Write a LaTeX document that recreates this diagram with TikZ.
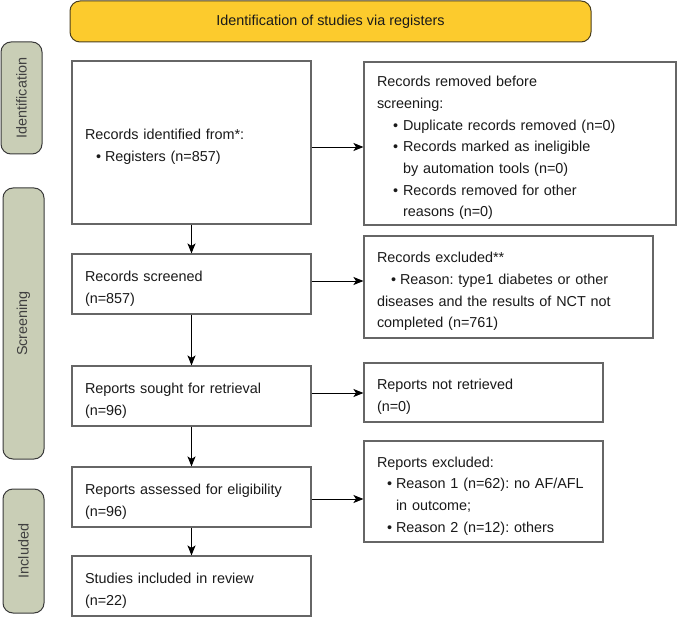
\documentclass[tikz,border=0pt]{standalone}
\usepackage{fontspec}
\setmainfont{Liberation Sans}
\usetikzlibrary{arrows.meta}
\definecolor{bannerfill}{HTML}{FCCB2D}
\definecolor{bannerline}{HTML}{4A3F1E}
\definecolor{sidefill}{HTML}{C9CEB6}
\definecolor{sideline}{HTML}{3A3A3A}
\definecolor{txt}{HTML}{1A1A1A}
\definecolor{boxline}{HTML}{666666}
\newcommand{\topfix}{\rule{0pt}{19.5pt}}
\begin{document}
\frenchspacing
\begin{tikzpicture}[x=1pt,y=-1pt,
  every node/.style={font=\fontsize{14.4}{21.7}\selectfont, text=txt},
  banner/.style={draw=bannerline, line width=1pt, fill=bannerfill, rounded corners=10pt,
    minimum width=521pt, minimum height=41pt, inner sep=0pt},
  side/.style={draw=sideline, line width=1pt, fill=sidefill, rounded corners=10pt,
    rotate=90, inner sep=0pt, text=black!75},
  flowbox/.style={draw=boxline, line width=1.1pt, fill=white, align=left,
    inner xsep=13pt, inner ysep=0pt, text width=#1},
  arr/.style={draw=black, line width=0.9pt, -{Stealth[length=10pt,width=8pt,inset=2.5pt]}}
]
\useasboundingbox (0,0) rectangle (679,617);

% banner
\node[banner] (ban) at (330.5,21.5) {Identification of studies via registers};

% side labels
\node[side, minimum width=112pt, minimum height=41pt] (idl) at (21.5,98) {Identification};
\node[side, minimum width=271pt, minimum height=41pt] (scr) at (23.5,323.5) {Screening};
\node[side, minimum width=124pt, minimum height=41pt] (inc) at (23.5,551) {Included};

% left column
\node[flowbox=213pt, minimum height=163pt] (b1) at (191.5,142.5)
  {\topfix Records identified from*:\\\hspace*{11pt}\textbullet\hspace{4pt}Registers (n=857)};
\node[flowbox=213pt, minimum height=60pt] (b2) at (191.5,284)
  {\topfix Records screened\\(n=857)};
\node[flowbox=213pt, minimum height=60pt] (b3) at (191.5,396)
  {\topfix Reports sought for retrieval\\(n=96)};
\node[flowbox=213pt, minimum height=60pt] (b4) at (191.5,497)
  {\topfix Reports assessed for eligibility\\(n=96)};
\node[flowbox=213pt, minimum height=60pt] (b5) at (191.5,586)
  {\topfix Studies included in review\\(n=22)};

% right column
\node[flowbox=286pt, minimum height=163pt] (r1) at (520,143.5)
  {\topfix Records removed before\\
   screening:\\
   \hspace*{16pt}\textbullet\hspace{5pt}Duplicate records removed (n=0)\\
   \hspace*{16pt}\textbullet\hspace{5pt}Records marked as ineligible\\
   \hspace*{26pt}by automation tools (n=0)\\
   \hspace*{16pt}\textbullet\hspace{5pt}Records removed for other\\
   \hspace*{26pt}reasons (n=0)};
\node[flowbox=263pt, minimum height=102pt] (r2) at (508.5,287)
  {\topfix Records excluded**\\
   \hspace*{14pt}\textbullet\hspace{4pt}Reason: type1 diabetes or other\\
   diseases and the results of NCT not\\
   completed (n=761)};
\node[flowbox=213pt, minimum height=59pt] (r3) at (483.5,392.5)
  {\topfix Reports not retrieved\\(n=0)};
\node[flowbox=213pt, minimum height=101pt] (r4) at (483.5,491.5)
  {\topfix Reports excluded:\\
   \hspace*{10pt}\textbullet\hspace{4pt}Reason 1 (n=62): no AF/AFL\\
   \hspace*{19pt}in outcome;\\
   \hspace*{10pt}\textbullet\hspace{4pt}Reason 2 (n=12): others};

% vertical arrows
\draw[arr] (b1.south) -- (b2.north);
\draw[arr] (b2.south) -- (b3.north);
\draw[arr] (b3.south) -- (b4.north);
\draw[arr] (b4.south) -- (b5.north);

% horizontal arrows
\draw[arr] ([yshift=-4.5pt]b1.east) -- ([yshift=-4.5pt]b1.east -| r1.west);
\draw[arr] ([yshift=3pt]b2.east) -- ([yshift=3pt]b2.east -| r2.west);
\draw[arr] ([yshift=3pt]b3.east) -- ([yshift=3pt]b3.east -| r3.west);
\draw[arr] ([yshift=-2pt]b4.east) -- ([yshift=-2pt]b4.east -| r4.west);
\end{tikzpicture}
\end{document}
